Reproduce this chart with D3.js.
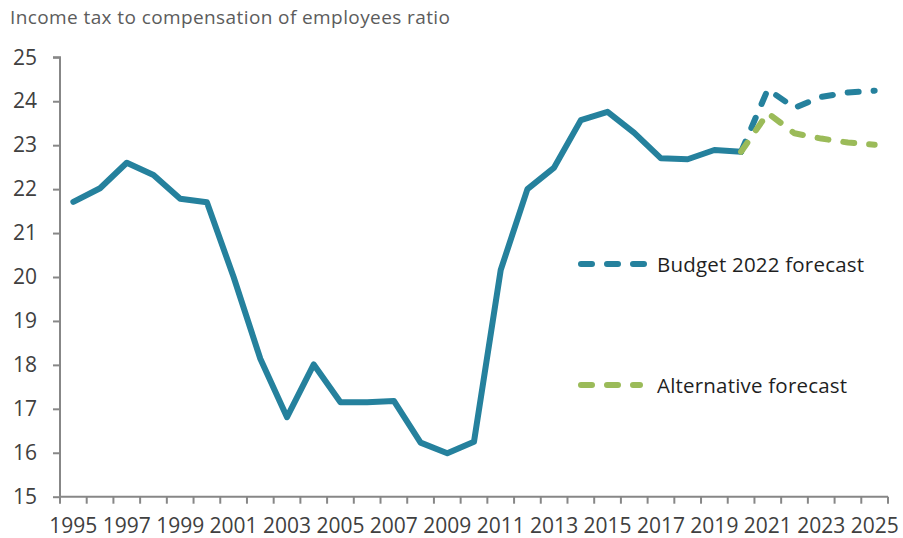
<!DOCTYPE html>
<html>
<head>
<meta charset="utf-8">
<script src="https://cdn.jsdelivr.net/npm/d3@7"></script>
<style>
  html, body { margin: 0; padding: 0; background: #fff; }
  svg { display: block; font-family: "Open Sans", "Noto Sans", sans-serif; }
</style>
</head>
<body>
<svg id="chart" width="903" height="538"></svg>
<script>
// Categories: one per year, 1995 to 2025
const years = d3.range(1995, 2026);
const labelYears = years.filter(y => (y - 1995) % 2 === 0);
const yTicks = [15, 16, 17, 18, 19, 20, 21, 22, 23, 24, 25];

// Outturn, 1995-2020
const actualYears = d3.range(1995, 2021);
const actualValues = [21.71, 22.02, 22.60, 22.32, 21.78, 21.70, 20.00, 18.14, 16.81, 18.01,
                      17.15, 17.15, 17.18, 16.23, 15.99, 16.25, 20.16, 22.00, 22.49, 23.57,
                      23.76, 23.28, 22.70, 22.68, 22.89, 22.85];

// Forecasts start from the 2020 outturn
const forecastYears = [2020, 2021, 2022, 2023, 2024, 2025];
const budgetValues = [22.85, 24.27, 23.85, 24.10, 24.20, 24.24];
const alternativeValues = [22.85, 23.73, 23.27, 23.15, 23.06, 23.01];

const titleText = "Income tax to compensation of employees ratio";
const budgetLabel = "Budget 2022 forecast";
const alternativeLabel = "Alternative forecast";

const teal = "#25819d";
const green = "#9bbb59";
const axisGrey = "#878787";
const tickText = "#404040";

const svg = d3.select("#chart");

const x = d3.scaleBand().domain(years).range([60, 888]).paddingInner(0).paddingOuter(0);
const xc = yr => x(yr) + x.bandwidth() / 2;
const y = d3.scaleLinear().domain([15, 25]).range([496.7, 57.3]);

// Title
svg.append("text")
  .attr("x", 10).attr("y", 24)
  .attr("font-size", 19)
  .attr("letter-spacing", 0.4)
  .attr("fill", "#5c5c5c")
  .text(titleText);

// Y axis
const yAxis = svg.append("g")
  .attr("transform", "translate(60,0)")
  .call(d3.axisLeft(y).tickValues(yTicks).tickSize(7).tickPadding(16).tickFormat(d3.format("d")));
yAxis.select(".domain").attr("stroke", axisGrey).attr("stroke-width", 2)
  .attr("d", `M-7,${y(25)}H0V${y(15)}`);
yAxis.selectAll(".tick line").attr("stroke", axisGrey).attr("stroke-width", 2);
yAxis.selectAll(".tick text").attr("font-size", 21).attr("fill", tickText)
  .attr("font-family", "'Open Sans', sans-serif");

// X axis: tick marks on category boundaries, labels on alternate category centres
const xg = svg.append("g").attr("transform", `translate(0,${y(15)})`);
xg.append("line")
  .attr("x1", 60).attr("x2", 888).attr("y1", 0).attr("y2", 0)
  .attr("stroke", axisGrey).attr("stroke-width", 2);
const boundaries = years.map(yr => x(yr)).concat([x(years[years.length - 1]) + x.bandwidth()]);
xg.selectAll("line.tk").data(boundaries).join("line")
  .attr("class", "tk")
  .attr("x1", d => d).attr("x2", d => d)
  .attr("y1", 0).attr("y2", 7)
  .attr("stroke", axisGrey).attr("stroke-width", 2);
xg.selectAll("text.lbl").data(labelYears).join("text")
  .attr("class", "lbl")
  .attr("x", d => xc(d)).attr("y", 36.5)
  .attr("text-anchor", "middle")
  .attr("font-size", 21).attr("fill", tickText)
  .text(d => d);

// Lines
const line = d3.line().x(d => xc(d[0])).y(d => y(d[1]));
const dash = "11,15";

svg.append("path")
  .datum(d3.zip(actualYears, actualValues))
  .attr("d", line)
  .attr("fill", "none").attr("stroke", teal).attr("stroke-width", 6)
  .attr("stroke-linejoin", "round").attr("stroke-linecap", "round");

svg.append("path")
  .datum(d3.zip(forecastYears, budgetValues))
  .attr("d", line)
  .attr("fill", "none").attr("stroke", teal).attr("stroke-width", 6)
  .attr("stroke-dasharray", dash)
  .attr("stroke-linejoin", "round").attr("stroke-linecap", "round");

svg.append("path")
  .datum(d3.zip(forecastYears, alternativeValues))
  .attr("d", line)
  .attr("fill", "none").attr("stroke", green).attr("stroke-width", 6)
  .attr("stroke-dasharray", dash)
  .attr("stroke-linejoin", "round").attr("stroke-linecap", "round");

// Legend
const legendItems = [
  { label: budgetLabel, color: teal, y: 264, x2: 647 },
  { label: alternativeLabel, color: green, y: 385, x2: 640 }
];
const lg = svg.append("g").selectAll("g").data(legendItems).join("g");
lg.append("line")
  .attr("x1", 581).attr("x2", d => d.x2)
  .attr("y1", d => d.y).attr("y2", d => d.y)
  .attr("stroke", d => d.color).attr("stroke-width", 6)
  .attr("stroke-linecap", "round").attr("stroke-dasharray", dash);
lg.append("text")
  .attr("x", 657).attr("y", d => d.y + 7.5)
  .attr("font-size", 20.5).attr("letter-spacing", 0.2).attr("fill", "#1f1f1f")
  .text(d => d.label);
</script>
</body>
</html>
